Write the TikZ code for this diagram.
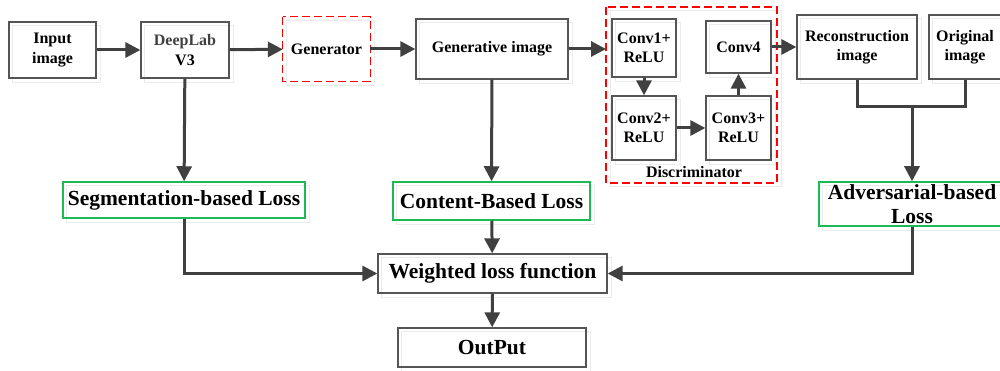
\documentclass[tikz,border=0pt]{standalone}
\usepackage{fontspec}
\setmainfont{Liberation Serif}
\usetikzlibrary{arrows.meta}
\definecolor{linegray}{HTML}{404040}
\definecolor{boxgray}{HTML}{555555}
\definecolor{lossgreen}{HTML}{1DB954}
\definecolor{ghost}{HTML}{EBEBEB}
\pgfdeclarelayer{ghostlayer}
\pgfsetlayers{ghostlayer,main}
\tikzset{
  base/.style={rectangle, inner sep=0pt, align=center, font=\bfseries\fontsize{16}{19.5}\selectfont},
  blk/.style={base, draw=boxgray, line width=1.3pt},
  loss/.style={base, draw=lossgreen, line width=1.5pt, font=\bfseries\fontsize{21.5}{25}\selectfont},
  bigblk/.style={blk, font=\bfseries\fontsize{21.5}{25}\selectfont},
  grp/.style={rectangle, draw=red, line width=1.2pt, dash pattern=on 8pt off 4pt},
  ghostline/.style={draw=ghost, line width=1pt},
  flow/.style={draw=linegray, line width=3pt, -{Triangle[length=15pt,width=15pt]}},
  wire/.style={draw=linegray, line width=3pt},
}
\begin{document}
\begin{tikzpicture}[x=1pt,y=-1pt]
\useasboundingbox (0,0) rectangle (1000,371);

% top row
\node[blk, minimum width=87pt, minimum height=56pt] (input) at (52.5,50) {Input\\image};
\node[blk, minimum width=88pt, minimum height=56pt] (deeplab) at (185,50) {\textcolor{linegray}{DeepLab}\\V3};
\node[base, minimum width=87pt, minimum height=64pt] (gen) at (326.5,49) {Generator};
\draw[grp] (gen.north west) rectangle (gen.south east);
\node[blk, minimum width=152pt, minimum height=60pt] (genimg) at (492,49) {Generative image};

% discriminator
\node[blk, minimum width=64pt, minimum height=58pt] (c1) at (644,48) {Conv1+\\ReLU};
\node[blk, minimum width=65pt, minimum height=52pt] (c4) at (738.5,47) {Conv4};
\node[blk, minimum width=64pt, minimum height=64pt] (c2) at (644,128) {Conv2+\\ReLU};
\node[blk, minimum width=65pt, minimum height=64pt] (c3) at (738.5,128) {Conv3+\\ReLU};
\node[base, anchor=base] (dlabel) at (694,178) {Discriminator};
\coordinate (dnw) at (606,7);
\coordinate (dse) at (777,183);
\draw[grp] (dnw) rectangle (dse);

\node[blk, minimum width=120pt, minimum height=64pt] (recon) at (857,47) {Reconstruction\\image};
\node[blk, minimum width=72pt, minimum height=64pt] (orig) at (965,47) {Original\\image};

% losses
\node[loss, minimum width=242pt, minimum height=36pt] (seg) at (184,200) {Segmentation-based Loss};
\node[loss, minimum width=197pt, minimum height=38pt] (content) at (491.5,201) {Content-Based Loss};
\node[loss, minimum width=186pt, minimum height=44pt] (adv) at (912,204) {Adversarial-based\\[-1pt]Loss};
\node[bigblk, minimum width=229pt, minimum height=39pt] (weighted) at (492.5,273.5) {Weighted loss function};
\node[bigblk, minimum width=188pt, minimum height=39pt] (out) at (492,347.5) {OutPut};

% white page and faint offset outlines beneath every frame
\begin{pgfonlayer}{ghostlayer}
  \fill[white] (0,0) rectangle (1000,371);
  \foreach \n in {input,deeplab,gen,genimg,c1,c2,c3,c4,recon,orig,seg,content,adv,weighted,out}
    \draw[ghostline] ([shift={(4,4)}]\n.north west) rectangle ([shift={(4,4)}]\n.south east);
  \draw[ghostline] ([shift={(4,4)}]dnw) rectangle ([shift={(4,4)}]dse);
\end{pgfonlayer}

% connectors
\draw[flow] (input) -- (deeplab);
\draw[flow] (deeplab) -- (gen);
\draw[flow] (gen) -- (genimg);
\draw[flow] (genimg) -- (genimg -| dnw);
\draw[flow] (c1) -- (c2);
\draw[flow] (c2) -- (c3);
\draw[flow] (c3) -- (c4);
\draw[flow] (c4) -- (recon);
\draw[flow] (deeplab) -- (seg);
\draw[flow] (genimg) -- (content);
\coordinate (join) at (912,107);
\draw[wire] (recon.south) |- (join) -| (orig.south);
\draw[flow] (join) -- (adv.north -| join);
\draw[flow] (content) -- (weighted);
\draw[flow] (weighted) -- (out);
\draw[flow] (seg.south) |- (weighted.west);
\draw[flow] (adv.south -| join) |- (weighted.east);
\end{tikzpicture}
\end{document}
